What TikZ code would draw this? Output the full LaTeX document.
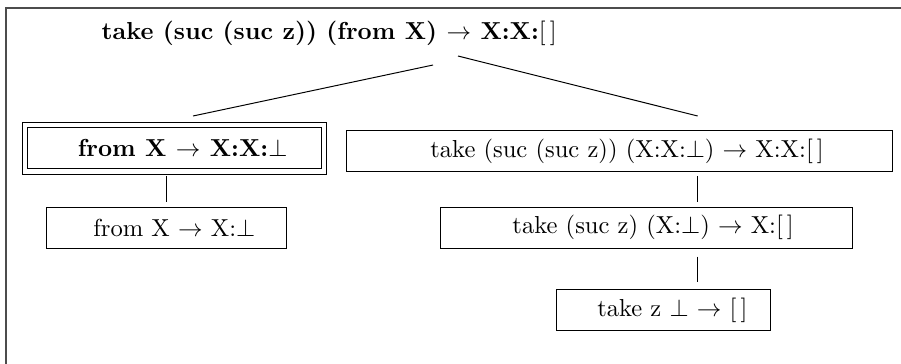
\documentclass[tikz,border=0pt]{standalone}
\usetikzlibrary{calc}
\begin{document}
\begin{tikzpicture}[x=0.407pt,y=-0.407pt,
  box/.style={draw, line width=0.4pt, rectangle, inner sep=0pt, outer sep=0pt},
  edge/.style={draw, line width=0.4pt}]
\useasboundingbox (0,0) rectangle (901,363);
\clip (0,0) rectangle (901,363);
% frame round the whole tree
\draw[black!70, line width=0.6pt] (6,8) rectangle (930,390);

% root of the evaluation tree
\node[font=\bfseries, inner sep=0pt] (root) at (329.2,33)
  {take (suc (suc z)) (from X) $\rightarrow$ X:X:$[\,]$};

% left branch
\node[box, double, double distance=1.8pt, minimum width=121.77pt, minimum height=19.01pt]
  (L1) at (174.6,148.2) {\hspace*{6.5pt}\bfseries from X $\rightarrow$ X:X:$\bot$};
\node[box, minimum width=97.96pt, minimum height=16.69pt]
  (L2) at (166.35,227.8) {\hspace*{6.5pt}from X $\rightarrow$ X:$\bot$};

% right branch
\node[box, minimum width=222.22pt, minimum height=16.40pt]
  (R1) at (619.7,150.85) {\hspace*{6pt}take (suc (suc z)) (X:X:$\bot$) $\rightarrow$ X:X:[\,]};
\node[box, minimum width=167.97pt, minimum height=16.69pt]
  (R2) at (646.35,227.8) {\hspace*{5.5pt}take (suc z) (X:$\bot$) $\rightarrow$ X:[\,]};
\node[box, minimum width=87.10pt, minimum height=16.85pt]
  (R3) at (663.7,310) {\hspace*{7pt}take z $\bot$ $\rightarrow$ [\,]};

% connectors
\coordinate (rcol) at (697.7,0);
\draw[edge] ($(root.center)+(103.8,32)$) -- ($(L1.north)+(18.4,-8.85)$);
\draw[edge] ($(root.center)+(128.8,23)$) -- ($(R1.north -| rcol)+(0,-14.7)$);
\draw[edge, shorten <=1.8pt, shorten >=2pt] (L1.south -| L2.north) -- (L2.north);
\draw[edge, shorten <=2pt, shorten >=2pt] (R1.south -| rcol) -- (R2.north -| rcol);
\draw[edge, shorten <=3.4pt, shorten >=2.85pt] (R2.south -| rcol) -- (R3.north -| rcol);
\end{tikzpicture}
\end{document}
